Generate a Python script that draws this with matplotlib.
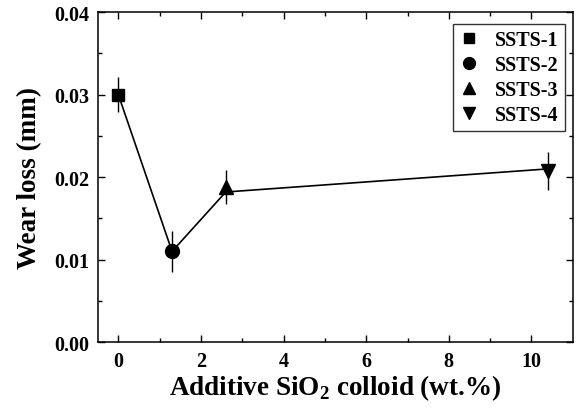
import numpy as np
import matplotlib.pyplot as plt
from matplotlib.lines import Line2D

# wear loss vs additive SiO2 colloid content
labels = ['SSTS-1', 'SSTS-2', 'SSTS-3', 'SSTS-4']
markers = ['s', 'o', '^', 'v']
sio2 = [0.0, 1.3, 2.6, 10.4]
wear = [0.0300, 0.0110, 0.0188, 0.0208]
wear_err = [0.0021, 0.0025, 0.0021, 0.0023]
line_wear = [0.0300, 0.0110, 0.0182, 0.0210]

plt.rcParams['font.family'] = ['Liberation Serif', 'DejaVu Serif']
plt.rcParams['font.weight'] = 'bold'
plt.rcParams['mathtext.fontset'] = 'custom'
plt.rcParams['mathtext.rm'] = 'Liberation Serif:bold'
plt.rcParams['mathtext.bf'] = 'Liberation Serif:bold'

fig = plt.figure(figsize=(5.78, 4.10), dpi=100)
ax = fig.add_axes([0.169, 0.163, 0.822, 0.805])

ax.plot(sio2, line_wear, color='black', lw=1.2, zorder=2)
sizes = [9, 10, 10, 10]
handles = []
for x, y, e, m, lab, ms in zip(sio2, wear, wear_err, markers, labels, sizes):
    ax.errorbar(x, y, yerr=e, fmt=m, color='black', ms=ms, elinewidth=1.0,
                capsize=0, zorder=3)
    handles.append(Line2D([], [], ls='none', marker=m, color='black', ms=ms * 0.85, label=lab))

ax.set_xlim(-0.5, 11)
ax.set_ylim(0, 0.04)
ax.set_xticks([0, 2, 4, 6, 8, 10])
ax.set_xticks(np.arange(1, 11, 2), minor=True)
ax.set_yticks([0.00, 0.01, 0.02, 0.03, 0.04])
ax.set_yticks([0.005, 0.015, 0.025, 0.035], minor=True)
ax.set_yticklabels(['0.00', '0.01', '0.02', '0.03', '0.04'])
ax.tick_params(which='both', direction='in', top=True, right=True, labelsize=14.5)
ax.tick_params(which='major', length=5, width=1, pad=6)
ax.tick_params(which='minor', length=3, width=1)
for s in ax.spines.values():
    s.set_linewidth(1.1)
for lbl in ax.get_xticklabels() + ax.get_yticklabels():
    lbl.set_fontweight('bold')

ax.set_xlabel('Additive SiO$_2$ colloid (wt.%)', fontsize=19.5, fontweight='bold', labelpad=1)
ax.set_ylabel('Wear loss (mm)', fontsize=19.5, fontweight='bold', labelpad=9)

leg = ax.legend(handles=handles, loc='upper right', bbox_to_anchor=(0.983, 0.964),
                borderaxespad=0,
                prop={'family': 'Liberation Serif', 'weight': 'bold', 'size': 14.5},
                frameon=True, fancybox=False, edgecolor='black', handlelength=1.0,
                handletextpad=0.8, labelspacing=0.25, borderpad=0.3)
leg.get_frame().set_linewidth(1.0)

fig.savefig('out.png', dpi=100)
